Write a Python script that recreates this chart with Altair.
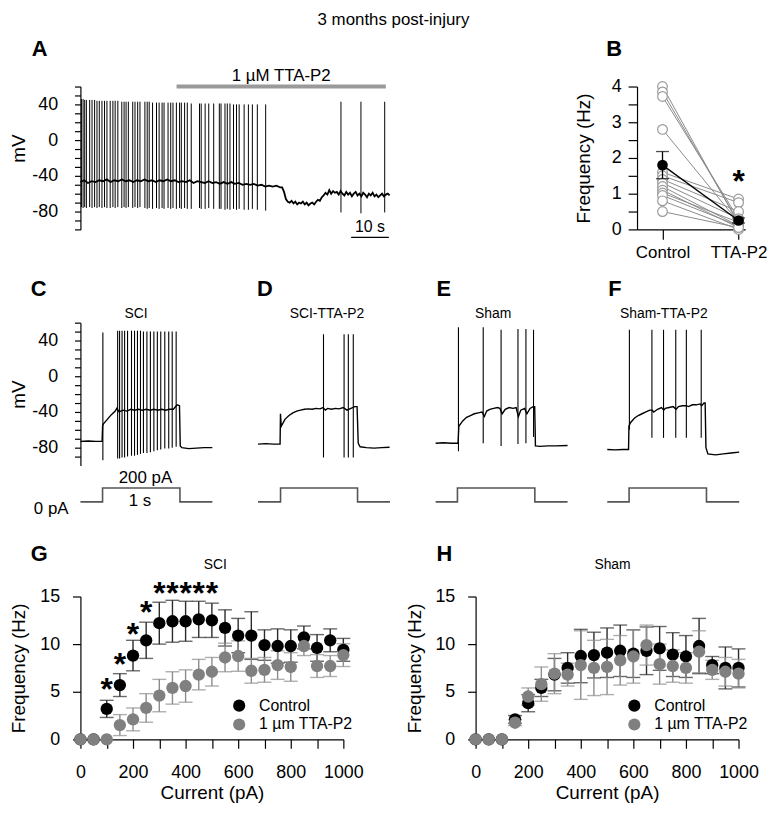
import altair as alt
import pandas as pd

FONT = "Liberation Sans"
TITLE = "3 months post-injury"

# ---------------- Panel A : spontaneous firing, TTA-P2 wash-in ----------------
A_T_MAX = 82.1  # s
# (time s, peak mV, trough mV)
A_spikes = [
    (0.26, 46, -75), (0.71, 46, -76), (1.13, 45, -75), (1.58, 45, -76), (2.45, 45, -75), (3.08, 45, -76),
    (3.76, 45, -75), (4.39, 44, -76), (5.0, 44, -75), (5.71, 44, -76), (6.39, 44, -75), (7.03, 44, -76),
    (7.89, 44, -76), (8.61, 44, -75), (9.21, 44, -76), (9.92, 44, -75), (10.97, 43, -76), (11.58, 43, -75),
    (12.1, 43, -76), (12.71, 43, -75), (13.87, 43, -76), (14.47, 43, -75), (15.18, 43, -76), (15.79, 43, -75),
    (17.1, 43, -76), (17.71, 43, -77), (18.24, 43, -76), (19.13, 42, -77), (20.18, 42, -76), (20.87, 42, -77),
    (21.66, 42, -76), (22.18, 42, -77), (23.24, 42, -76), (23.95, 42, -77), (24.55, 42, -76), (25.45, 42, -77),
    (26.3, 42, -76), (26.76, 42, -77), (27.63, 42, -76), (28.34, 42, -77), (29.39, 41, -77), (31.58, 41, -76),
    (32.03, 41, -77), (33.08, 41, -77), (34.03, 41, -76), (35.34, 41, -77), (36.84, 41, -77), (37.29, 41, -77),
    (38.34, 41, -78), (38.95, 41, -77), (39.66, 41, -78), (40.6, 40, -77), (41.39, 40, -78), (42.1, 40, -77),
    (43.42, 40, -78), (44.55, 40, -78), (45.6, 40, -77), (46.92, 40, -78), (49.13, 40, -79),
    (69.1, 43, -81), (74.4, 43, -82), (80.7, 43, -81),
]
# (time s, membrane potential mV)
A_baseline = [
    (0, -47), (1, -45), (2, -48), (3, -46), (4, -47), (5, -45), (6, -46), (7, -44), (8, -47), (9, -45),
    (10, -46), (11, -44), (12, -46), (13, -45), (14, -47), (15, -45), (16, -46), (17, -44), (18, -46), (19, -45),
    (20, -47), (21, -45), (22, -46), (23, -44), (24, -46), (25, -45), (26, -47), (27, -46), (28, -47), (29, -45),
    (30, -48), (31, -46), (32, -47), (33, -48), (34, -46), (35, -48), (36, -47), (37, -49), (38, -47), (39, -49),
    (40, -47), (41, -49), (42, -48), (43, -50), (44, -49), (45, -50), (46, -49), (47, -51), (48, -50), (49, -52),
    (50, -51), (51, -52), (52, -51), (53, -53), (53.5, -53), (54, -58), (54.5, -66), (55, -69), (55.5, -70),
    (56, -68), (56.5, -71), (57, -69), (57.5, -72), (58, -70), (58.5, -71), (59, -69), (59.5, -72), (60, -70),
    (60.5, -73), (61, -71), (61.5, -70), (62, -72), (62.5, -69), (63, -67), (63.5, -68), (64, -64), (64.5, -62),
    (65, -59), (65.5, -61), (66, -56), (66.5, -60), (67, -57), (67.5, -59), (68, -58), (68.5, -61), (69, -57),
    (69.5, -60), (70, -62), (70.5, -58), (71, -61), (71.5, -59), (72, -63), (72.5, -60), (73, -58), (73.5, -62),
    (74, -60), (74.5, -63), (75, -59), (75.5, -61), (76, -64), (76.5, -60), (77, -62), (77.5, -59), (78, -63),
    (78.5, -61), (79, -64), (79.5, -62), (80, -60), (80.5, -63), (81, -61), (81.5, -60), (82, -62),
]
A_drug = (25.5, 81.0)
A_drug_label = "1 \u00b5M TTA-P2"
A_scalebar = (71.8, 81.8)

# ---------------- Panel B ----------------
B_control = [4.0, 3.85, 3.72, 2.8, 1.6, 1.5, 1.4, 1.3, 1.2, 1.1, 1.02, 0.95, 0.8, 0.5]
B_tta = [0.15, 0.2, 0.3, 0.2, 0.85, 0.75, 0.5, 0.3, 0.1, 0.05, 0.2, 0.1, 0.0, 0.05]
B_mean = [1.8, 0.25]
B_sem = [0.38, 0.07]
B_star_y = 1.52

# ---------------- Panels C-F : step-evoked firing ----------------
C_baseline = [
    (0, -73), (0.1, -72.5), (0.2, -73), (0.28, -73), (0.287, -55), (0.3, -53), (0.35, -48), (0.4, -43),
    (0.45, -39), (0.47, -36), (0.5, -40), (0.55, -38), (0.6, -39), (0.65, -37), (0.7, -38), (0.75, -37),
    (0.8, -38), (0.85, -37), (0.9, -38), (0.95, -37), (1.0, -38), (1.05, -37), (1.1, -38), (1.15, -37),
    (1.2, -37), (1.25, -32), (1.28, -33), (1.29, -78), (1.31, -80), (1.4, -81), (1.5, -80.5), (1.6, -80),
    (1.705, -80),
]
C_spikes = [
    (0.290, 49, -94), (0.481, 51, -92), (0.506, 51, -92), (0.538, 51, -91), (0.571, 51, -91), (0.609, 51, -90),
    (0.660, 51, -89), (0.699, 51, -89), (0.737, 51, -88), (0.776, 51, -87), (0.814, 50, -86), (0.859, 50, -86),
    (0.904, 50, -85), (0.949, 50, -84), (0.994, 50, -83), (1.038, 50, -82), (1.090, 50, -81), (1.141, 50, -81),
    (1.186, 50, -80), (1.237, 50, -79),
]
D_baseline = [
    (0, -76), (0.1, -75.5), (0.2, -76), (0.285, -76), (0.29, -42), (0.3, -56), (0.35, -48), (0.4, -44),
    (0.45, -41), (0.5, -39), (0.55, -38), (0.6, -37), (0.65, -36.5), (0.7, -37), (0.75, -36), (0.8, -36.5),
    (0.84, -35), (0.87, -38), (0.9, -36), (0.95, -37), (1.0, -36), (1.05, -36.5), (1.1, -35), (1.15, -38),
    (1.2, -36), (1.25, -34), (1.28, -34), (1.295, -75), (1.32, -79), (1.4, -80), (1.5, -80.5), (1.6, -80),
    (1.7, -79.5),
]
D_spikes = [(0.846, 47, -91), (1.112, 47, -91), (1.167, 47, -91), (1.231, 47, -91)]
E_baseline = [
    (0, -75), (0.1, -74.5), (0.2, -75), (0.29, -75), (0.3, -56), (0.35, -50), (0.4, -46), (0.45, -44),
    (0.5, -42), (0.55, -41), (0.6, -40), (0.63, -45), (0.66, -39), (0.7, -37), (0.75, -36), (0.8, -35),
    (0.83, -36), (0.86, -42), (0.9, -37), (0.95, -35), (1.0, -36), (1.04, -35), (1.07, -45), (1.1, -38),
    (1.15, -36), (1.18, -42), (1.22, -36), (1.26, -34), (1.28, -34), (1.285, -55), (1.29, -78), (1.35, -78.5),
    (1.45, -78), (1.55, -78), (1.705, -77.5),
]
E_spikes = [(0.295, 55, -84), (0.615, 55, -75), (0.846, 52, -78), (1.064, 53, -76), (1.167, 53, -75), (1.265, 52, -68)]
F_baseline = [
    (0, -82), (0.1, -82.5), (0.2, -82), (0.275, -82), (0.28, -56), (0.3, -52), (0.35, -47), (0.4, -44),
    (0.45, -42), (0.5, -40), (0.55, -38), (0.58, -38), (0.6, -40), (0.65, -37), (0.7, -35), (0.73, -38),
    (0.75, -36), (0.8, -35), (0.85, -34), (0.89, -37), (0.92, -34), (0.97, -33), (1.02, -33), (1.05, -34),
    (1.1, -32), (1.15, -32), (1.2, -31), (1.22, -33), (1.25, -30), (1.265, -30), (1.275, -80), (1.3, -87),
    (1.4, -88), (1.5, -87), (1.6, -86), (1.705, -85),
]
F_spikes = [(0.286, 52, -60), (0.577, 52, -69), (0.727, 52, -69), (0.885, 52, -69), (1.022, 52, -69), (1.214, 52, -69)]

# current step (time s, pA)
C_step = [(0, 0), (0.286, 0), (0.286, 200), (1.286, 200), (1.286, 0), (1.705, 0)]
D_step = [(0, 0), (0.291, 0), (0.291, 200), (1.286, 200), (1.286, 0), (1.705, 0)]
E_step = [(0, 0), (0.282, 0), (0.282, 200), (1.282, 200), (1.282, 0), (1.705, 0)]
F_step = [(0, 0), (0.282, 0), (0.282, 200), (1.282, 200), (1.282, 0), (1.705, 0)]

# ---------------- Panels G, H : F-I curves ----------------
CURRENTS = [0, 50, 100, 150, 200, 250, 300, 350, 400, 450, 500, 550, 600, 650, 700, 750, 800, 850, 900, 950, 1000]
CURRENT_TICKS = [0, 100, 200, 300, 400, 500, 600, 700, 800, 900, 1000]
G_ctrl = [0, 0, 3.2, 5.7, 8.8, 10.4, 12.2, 12.4, 12.4, 12.6, 12.5, 11.7, 10.9, 10.9, 9.9, 9.8, 9.8, 10.7, 9.6, 10.4, 9.4]
G_ctrl_sem = [0, 0, 0.9, 1.2, 1.6, 1.9, 2.2, 2.2, 2.1, 1.9, 1.8, 1.9, 1.8, 2.5, 1.6, 1.8, 1.7, 1.2, 1.4, 1.2, 1.2]
G_tta = [0, 0, 0, 1.5, 2.1, 3.3, 4.6, 5.4, 5.6, 6.8, 7.1, 8.6, 8.75, 7.2, 7.3, 7.8, 7.6, 9.8, 7.7, 7.7, 8.85]
G_tta_sem = [0, 0, 0, 1.1, 1.2, 1.5, 1.7, 1.7, 1.7, 1.6, 1.5, 1.5, 1.6, 1.3, 1.3, 1.5, 1.5, 1.0, 1.2, 1.1, 1.2]
G_star_x = [100, 150, 200, 250, 300, 350, 400, 450, 500]
G_star_y = [5.9, 8.5, 11.7, 14.0, 16.0, 16.0, 16.0, 16.0, 16.0]
H_ctrl = [0, 0, 0, 2.1, 3.8, 5.4, 6.8, 7.5, 8.75, 8.85, 9.1, 9.3, 9.0, 9.3, 9.55, 8.9, 8.7, 9.8, 7.8, 7.5, 7.5]
H_ctrl_sem = [0, 0, 0, 0.4, 0.9, 0.9, 1.7, 1.6, 2.8, 2.4, 2.6, 2.7, 2.5, 2.5, 2.3, 2.3, 2.2, 2.9, 0.9, 2.2, 2.0]
H_tta = [0, 0, 0, 1.75, 4.5, 5.8, 6.9, 6.8, 7.8, 7.5, 7.6, 8.3, 8.7, 9.9, 7.9, 7.7, 7.5, 9.2, 7.3, 7.1, 6.9]
H_tta_sem = [0, 0, 0, 0.3, 0.9, 1.8, 2.1, 1.2, 3.6, 2.9, 2.9, 2.6, 2.8, 2.1, 2.1, 1.7, 1.6, 2.2, 1.0, 1.5, 1.5]
GROUPS = ["Control", "1 \u00b5m TTA-P2"]
GROUP_COLORS = ["#000000", "#808080"]

MV_TICKS = [-100, -90, -80, -70, -60, -50, -40, -30, -20, -10, 0, 10, 20, 30, 40, 50, 60]
MV_TICKS_C = [-90, -80, -70, -60, -50, -40, -30, -20, -10, 0, 10, 20, 30, 40, 50, 60]

# ---------------- layout (pixels) ----------------
PX_PER_S = 78.0
STEP_H = 36.6      # step panel incl. gap above the 200 pA level
STEP_PX = 14.0     # 200 pA in pixels
ROW1_H = 144
TITLE_X = -52


def label(txt, x, y, size, weight="normal", align="left"):
    return alt.Chart(pd.DataFrame({"s": [txt]})).mark_text(
        align=align, baseline="alphabetic", font=FONT, fontSize=size, fontWeight=weight, color="black"
    ).encode(x=alt.value(x), y=alt.value(y), text="s:N")


def mv_axis(ticks, title_y=None):
    kw = dict(values=ticks, labelExpr="datum.value % 40 === 0 ? '' + datum.value : ''",
              tickSize=6, labelPadding=17, title="mV", titleX=TITLE_X, labelFlush=False, labelOverlap=False)
    if title_y is not None:
        kw["titleY"] = title_y
    return alt.Axis(**kw)


MV = alt.Scale(domain=[-100, 60], nice=False, zero=False)

# ---------------- build A ----------------
ax_a = mv_axis(MV_TICKS, 62)
xa = alt.Scale(domain=[0, A_T_MAX], nice=False, zero=False)
XA = lambda f: alt.X(f, type="quantitative", scale=xa, axis=None)
YA = lambda f: alt.Y(f, type="quantitative", scale=MV, axis=ax_a)
a_base = pd.DataFrame(A_baseline, columns=["t", "v"])
a_base["k"] = range(len(a_base))
a_spk = pd.DataFrame(A_spikes, columns=["t", "v2", "v"])
a_line = alt.Chart(a_base).mark_line(color="black", strokeWidth=1.8).encode(x=XA("t"), y=YA("v"), order="k:Q")
a_rules = alt.Chart(a_spk).mark_rule(color="black", strokeWidth=1).encode(x=XA("t"), y=YA("v"), y2="v2:Q")
a_drug = alt.Chart(pd.DataFrame({"t": [A_drug[0]], "t2": [A_drug[1]], "v": [60]})).mark_rule(
    color="#9a9a9a", strokeWidth=4).encode(x=XA("t"), x2="t2:Q", y=YA("v"))
a_drug_txt = alt.Chart(pd.DataFrame({"t": [(A_drug[0] + A_drug[1]) / 2], "v": [60], "s": [A_drug_label]})).mark_text(
    font=FONT, fontSize=17, baseline="alphabetic", dy=-6, color="black").encode(x=XA("t"), y=YA("v"), text="s:N")
a_sb = alt.Chart(pd.DataFrame({"t": [A_scalebar[0]], "t2": [A_scalebar[1]], "v": [-109]})).mark_rule(
    color="black", strokeWidth=1.2).encode(x=XA("t"), x2="t2:Q", y=YA("v"))
a_sb_txt = alt.Chart(pd.DataFrame({"t": [(A_scalebar[0] + A_scalebar[1]) / 2], "v": [-109], "s": ["10 s"]})).mark_text(
    font=FONT, fontSize=16, baseline="alphabetic", dy=-5, color="black").encode(x=XA("t"), y=YA("v"), text="s:N")
panel_a = alt.layer(
    a_line, a_rules, a_drug, a_drug_txt, a_sb, a_sb_txt,
    label("A", -49, -30.5, 22, "bold"),
    label(TITLE, 315.5, -62, 17, align="center"),
).properties(width=312, height=ROW1_H)

# ---------------- build B ----------------
bx = alt.Scale(domain=[-0.335, 1.087], nice=False, zero=False)
by = alt.Scale(domain=[0, 4], nice=False, zero=False)
bxax = alt.Axis(values=[0, 1], labelExpr="datum.value === 0 ? 'Control' : (datum.value === 1 ? 'TTA-P2' : '')",
                tickSize=10, labelPadding=5, title=None, labelFlush=False, labelOverlap=False, labelFontSize=17)
byax = alt.Axis(values=[0, 0.5, 1, 1.5, 2, 2.5, 3, 3.5, 4],
                labelExpr="datum.value % 1 === 0 ? '' + datum.value : ''",
                tickSize=9, labelPadding=7, title="Frequency (Hz)", titleX=-44, labelFlush=False, labelOverlap=False)
XB = lambda f: alt.X(f, type="quantitative", scale=bx, axis=bxax)
YB = lambda f: alt.Y(f, type="quantitative", scale=by, axis=byax)
b_rows = []
for i, (c, t) in enumerate(zip(B_control, B_tta)):
    b_rows.append({"cell": i, "c": 0, "f": c})
    b_rows.append({"cell": i, "c": 1, "f": t})
b_df = pd.DataFrame(b_rows)
b_lines = alt.Chart(b_df).mark_line(color="#8a8a8a", strokeWidth=1).encode(x=XB("c"), y=YB("f"), detail="cell:N", order="c:Q")
b_open = alt.Chart(b_df).mark_circle(size=95, fill="white", stroke="#9a9a9a", strokeWidth=1.2, opacity=1).encode(
    x=XB("c"), y=YB("f"))
b_mdf = pd.DataFrame({"c": [0, 1], "f": B_mean, "lo": [m - s for m, s in zip(B_mean, B_sem)],
                      "hi": [m + s for m, s in zip(B_mean, B_sem)]})
b_mline = alt.Chart(b_mdf).mark_line(color="black", strokeWidth=1.3).encode(x=XB("c"), y=YB("f"))
b_err = alt.Chart(b_mdf).mark_rule(color="black", strokeWidth=1.3).encode(x=XB("c"), y=YB("lo"), y2="hi:Q")
b_cap1 = alt.Chart(b_mdf).mark_tick(orient="horizontal", color="black", size=13, thickness=1.3).encode(x=XB("c"), y=YB("hi"))
b_cap2 = alt.Chart(b_mdf).mark_tick(orient="horizontal", color="black", size=13, thickness=1.3).encode(x=XB("c"), y=YB("lo"))
b_mpts = alt.Chart(b_mdf).mark_circle(size=115, color="black", opacity=1).encode(x=XB("c"), y=YB("f"))
b_star = alt.Chart(pd.DataFrame({"c": [1], "f": [B_star_y], "s": ["*"]})).mark_text(
    font=FONT, fontSize=32, fontWeight="bold", baseline="alphabetic", dy=17, color="black").encode(
    x=XB("c"), y=YB("f"), text="s:N")
panel_b = alt.layer(b_lines, b_open, b_mline, b_err, b_cap1, b_cap2, b_mpts, b_star,
                    label("B", -31, -30.5, 22, "bold")).properties(width=109, height=ROW1_H)


# ---------------- C-F ----------------
def trace_panel(base, spikes, width, letter, letter_x, sub, sub_x, with_axis):
    xs = alt.Scale(domain=[0, width / PX_PER_S], nice=False, zero=False)
    yax = mv_axis(MV_TICKS_C) if with_axis else None
    X = lambda f: alt.X(f, type="quantitative", scale=xs, axis=None)
    Y = lambda f: alt.Y(f, type="quantitative", scale=MV, axis=yax)
    bdf = pd.DataFrame(base, columns=["t", "v"])
    bdf["k"] = range(len(bdf))
    sdf = pd.DataFrame(spikes, columns=["t", "v2", "v"])
    line = alt.Chart(bdf).mark_line(color="black", strokeWidth=1.4).encode(x=X("t"), y=Y("v"), order="k:Q")
    rules = alt.Chart(sdf).mark_rule(color="black", strokeWidth=1.1).encode(x=X("t"), y=Y("v"), y2="v2:Q")
    return alt.layer(line, rules, label(letter, letter_x, -26.7, 22, "bold"),
                     label(sub, sub_x, -4.5, 14, align="center")).properties(width=width, height=144)


def step_panel(step, width, annotate):
    xs = alt.Scale(domain=[0, width / PX_PER_S], nice=False, zero=False)
    ys = alt.Scale(domain=[0, 200 * STEP_H / STEP_PX], nice=False, zero=False)
    X = lambda f: alt.X(f, type="quantitative", scale=xs, axis=None)
    Y = lambda f: alt.Y(f, type="quantitative", scale=ys, axis=None)
    df = pd.DataFrame(step, columns=["t", "i"])
    df["k"] = range(len(df))
    layers = [alt.Chart(df).mark_line(color="#555555", strokeWidth=1.6).encode(x=X("t"), y=Y("i"), order="k:Q")]
    if annotate:
        notes = [("200 pA", 0.84, 200, "center", 0, -5), ("1 s", 0.77, 0, "center", 0, 4), ("0 pA", 0.0, 0, "right", -12, 12)]
        for s, t, i, al, dx, dy in notes:
            layers.append(alt.Chart(pd.DataFrame({"t": [t], "i": [i], "s": [s]})).mark_text(
                font=FONT, fontSize=17, baseline="alphabetic", align=al, dx=dx, dy=dy, color="black"
            ).encode(x=X("t"), y=Y("i"), text="s:N"))
    return alt.layer(*layers).properties(width=width, height=STEP_H)


W_C, W_D, W_E, W_F = 179, 179, 173, 133
trC = trace_panel(C_baseline, C_spikes, W_C, "C", -50, "SCI", 56, True)
trD = trace_panel(D_baseline, D_spikes, W_D, "D", -1, "SCI-TTA-P2", 69.5, False)
trE = trace_panel(E_baseline, E_spikes, W_E, "E", 1, "Sham", 58, False)
trF = trace_panel(F_baseline, F_spikes, W_F, "F", 1, "Sham-TTA-P2", 57, False)
stC = step_panel(C_step, W_C, True)
stD = step_panel(D_step, W_D, False)
stE = step_panel(E_step, W_E, False)
stF = step_panel(F_step, W_F, False)


# ---------------- G, H ----------------
def fi_panel(ctrl, ctrl_sem, tta, tta_sem, letter, letter_x, sub, sub_x, star_x=None, star_y=None):
    xs = alt.Scale(domain=[0, 1000], nice=False, zero=False)
    ys = alt.Scale(domain=[0, 15], nice=False, zero=False)
    xax = alt.Axis(values=CURRENT_TICKS, labelExpr="datum.value % 200 === 0 ? '' + datum.value : ''",
                   tickSize=9, labelPadding=15, title="Current (pA)", titleY=45, labelFlush=False, labelOverlap=False)
    yax = alt.Axis(values=[0, 5, 10, 15], tickSize=8, labelPadding=13, title="Frequency (Hz)", titleX=TITLE_X,
                   labelFlush=False, labelOverlap=False)
    X = lambda f: alt.X(f, type="quantitative", scale=xs, axis=xax)
    Y = lambda f: alt.Y(f, type="quantitative", scale=ys, axis=yax)
    rows = []
    for g, means, sems in [(GROUPS[0], ctrl, ctrl_sem), (GROUPS[1], tta, tta_sem)]:
        for c, m, s in zip(CURRENTS, means, sems):
            rows.append({"c": c, "f": m, "lo": m - s, "hi": m + s, "err": s, "g": g})
    df = pd.DataFrame(rows)
    df["k"] = range(len(df))
    layers = []
    for g, col in [(GROUPS[0], "#2a2a2a"), (GROUPS[1], "#8c8c8c")]:
        d = df[(df["g"] == g) & (df["err"] > 0)]
        layers.append(alt.Chart(d).mark_rule(color=col, strokeWidth=1.4).encode(x=X("c"), y=Y("lo"), y2="hi:Q"))
        layers.append(alt.Chart(d).mark_tick(orient="horizontal", color=col, size=14, thickness=1.4).encode(x=X("c"), y=Y("hi")))
        layers.append(alt.Chart(d).mark_tick(orient="horizontal", color=col, size=14, thickness=1.4).encode(x=X("c"), y=Y("lo")))
    layers.append(alt.Chart(df).mark_circle(size=155, opacity=1).encode(
        x=X("c"), y=Y("f"), order="k:Q",
        color=alt.Color("g:N", scale=alt.Scale(domain=GROUPS, range=GROUP_COLORS),
                        legend=alt.Legend(orient="none", legendX=152, legendY=102, title=None, symbolType="circle",
                                          symbolSize=150, symbolStrokeWidth=0, labelFont=FONT, labelFontSize=16,
                                          labelColor="black", labelOffset=12, rowPadding=3, padding=0))))
    if star_x is not None:
        sdf = pd.DataFrame({"c": star_x, "f": star_y, "s": ["*"] * len(star_x)})
        layers.append(alt.Chart(sdf).mark_text(font=FONT, fontSize=32, fontWeight="bold", baseline="alphabetic",
                                               dy=17, color="black").encode(x=X("c"), y=Y("f"), text="s:N"))
    layers.append(label(letter, letter_x, -36, 22, "bold"))
    layers.append(label(sub, sub_x, -27.7, 14, align="center"))
    return alt.layer(*layers).properties(width=265, height=144)


panel_g = fi_panel(G_ctrl, G_ctrl_sem, G_tta, G_tta_sem, "G", -50, "SCI", 136, G_star_x, G_star_y)
panel_h = fi_panel(H_ctrl, H_ctrl_sem, H_tta, H_tta_sem, "H", -39.3, "Sham", 138)

# rows: flush (plot areas only) side by side; rows stacked on full bounds
row1 = alt.hconcat(panel_a, panel_b, spacing=249, bounds="flush")
row2a = alt.hconcat(trC, trD, trE, trF, spacing=0, bounds="flush")
row2b = alt.hconcat(stC, stD, stE, stF, spacing=0, bounds="flush")
row3 = alt.hconcat(panel_g, panel_h, spacing=133.3, bounds="flush").resolve_scale(
    color="independent").resolve_legend(color="independent")

lower = alt.vconcat(alt.vconcat(row2a, row2b, spacing=0, bounds="full"), row3, spacing=26, bounds="full")
chart = alt.vconcat(row1, lower, spacing=18, bounds="full").properties(
    padding={"left": 2, "top": 0, "right": 0, "bottom": 0}, background="white").configure_view(
    stroke=None).configure_axis(
    domainColor="black", domainWidth=1.2, tickColor="black", tickWidth=1.2, grid=False,
    labelFont=FONT, titleFont=FONT, labelFontSize=18, titleFontSize=19, labelColor="black", titleColor="black",
    titleFontWeight="normal")

chart.save("out.html", embed_options={"renderer": "svg", "actions": False})
